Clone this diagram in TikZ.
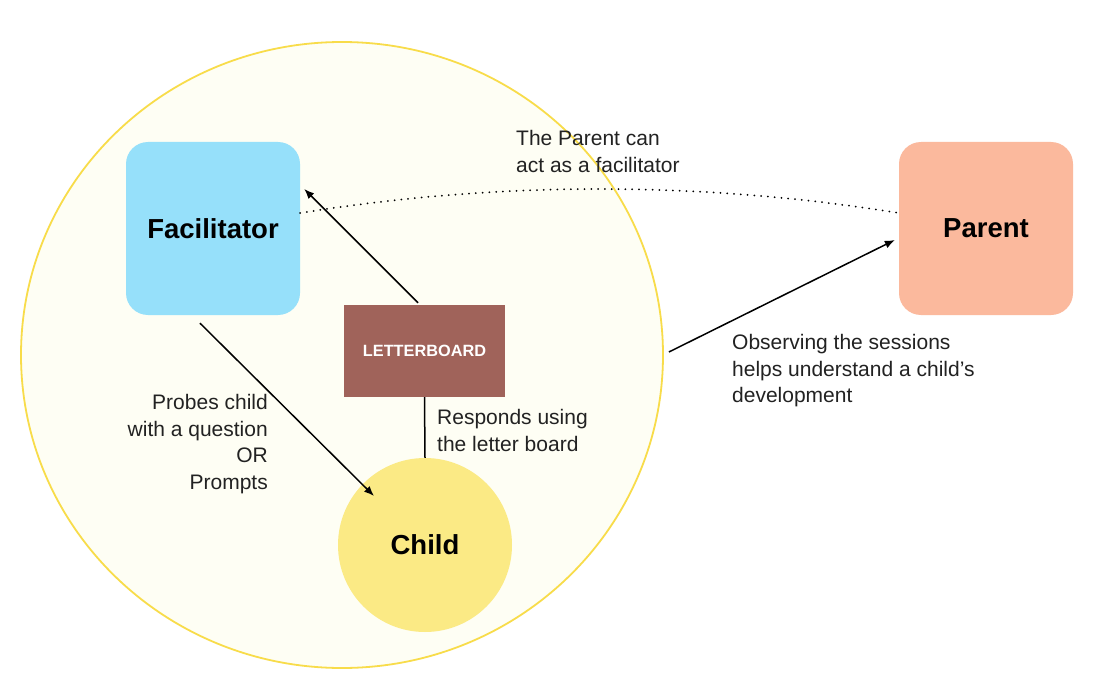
\documentclass[tikz,border=0pt]{standalone}
\usepackage{fontspec}
\setmainfont{Liberation Sans}
\usetikzlibrary{arrows.meta,calc,shapes.geometric}
\definecolor{facC}{HTML}{96E0FA}
\definecolor{parC}{HTML}{FBB99D}
\definecolor{lbC}{HTML}{A0635A}
\definecolor{childC}{HTML}{FBEA85}
\definecolor{bigF}{HTML}{FEFEF4}
\definecolor{bigD}{HTML}{F8DC4A}
\definecolor{txt}{HTML}{222222}
\tikzset{
  roundbox/.style={rounded corners=22pt, minimum width=174pt, minimum height=173pt, inner sep=0pt,
    font=\fontsize{27.5}{30}\selectfont\bfseries},
  lbl/.style={font=\fontsize{21}{26.5}\selectfont, text=txt, inner sep=0pt},
  conn/.style={line width=1.5pt, draw=black},
  arr/.style={conn, -{Latex[length=10pt,width=8pt]}},
}
\begin{document}
\begin{tikzpicture}[x=1pt,y=-1pt]
\useasboundingbox[fill=white] (0,0) rectangle (1098,698);
% big circle
\node[ellipse, draw=bigD, fill=bigF, line width=1.8pt, minimum width=642pt, minimum height=626pt, inner sep=0pt] (big) at (342,355) {};
% boxes
\node[roundbox, fill=facC] (fac) at (213,228.5) {\raisebox{-1.5pt}{Facilitator}};
\node[roundbox, fill=parC] (par) at (986,228.5) {\raisebox{-1.5pt}{Parent}};
\node[fill=lbC, minimum width=161pt, minimum height=92pt, inner sep=0pt, text=white,
      font=\fontsize{16.3}{18}\selectfont\bfseries] (lb) at (424.5,351) {LETTERBOARD};
\node[circle, fill=childC, minimum size=174pt, inner sep=0pt, font=\fontsize{27.5}{30}\selectfont\bfseries] (child) at (425,545) {Child};
% connectors
\draw[arr] ($(lb.north)+(-6.5,-2)$) -- ($(fac.east)+(4,-39.5)$);
\draw[arr] ($(fac.south)+(-13,8)$) -- ($(child.center)+(-51,-49)$);
\draw[conn] (lb.south) -- (child.north);
\draw[arr] ($(big.east)+(5,-3)$) -- ($(par.west)+(-4,11.5)$);
\draw[line width=2pt, line cap=round, dash pattern=on 0pt off 6.8pt] ($(fac.east)+(0,-15.5)$) .. controls (500,181) and (700,181) .. ($(par.west)+(0,-15.5)$);
% labels
\node[lbl, anchor=west, align=left] (t1) at (516,151.5) {The Parent can\\act as a facilitator};
\node[lbl, anchor=east, align=right] (t2) at (268,444) {Probes child\\with a question\\OR\\Prompts};
\node[lbl, anchor=west, align=left] (t3) at (437,430.5) {Responds using\\the letter board};
\node[lbl, anchor=west, align=left] (t4) at (732,371) {Observing the sessions\\helps understand a child’s\\development};
\end{tikzpicture}
\end{document}
